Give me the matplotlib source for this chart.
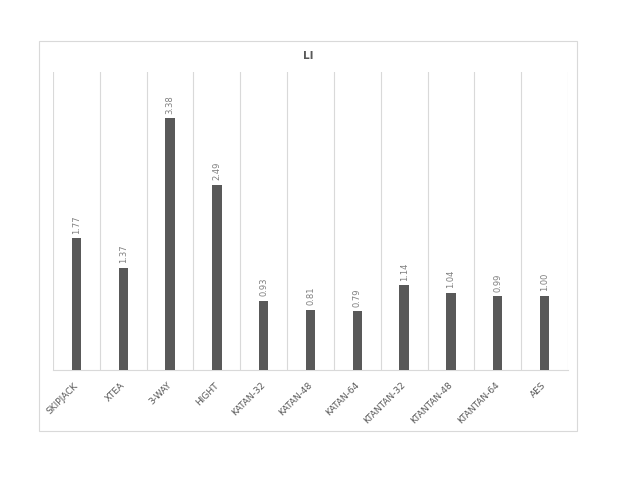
import matplotlib.pyplot as plt
from matplotlib.patches import Rectangle
from matplotlib.transforms import ScaledTranslation

# LI values per cipher
ciphers = ['SKIPJACK', 'XTEA', '3-WAY', 'HIGHT', 'KATAN-32', 'KATAN-48',
           'KATAN-64', 'KTANTAN-32', 'KTANTAN-48', 'KTANTAN-64', 'AES']
li_values = [1.77, 1.37, 3.38, 2.49, 0.93, 0.81, 0.79, 1.14, 1.04, 0.99, 1.00]

txt = '#595959'
grid = '#d9d9d9'

fig = plt.figure(figsize=(6.23, 4.81), dpi=100)
fig.patch.set_facecolor('white')

# chart area border
fig.patches.append(Rectangle((0.0626, 0.1019), 0.8636, 0.8108, transform=fig.transFigure,
                             fill=False, edgecolor=grid, linewidth=0.8))

ax = fig.add_axes([0.0851, 0.2287, 0.8266, 0.6195])
x = list(range(len(ciphers)))
bars = ax.bar(x, li_values, width=0.2, color='#595959', zorder=3)

ax.set_xlim(-0.5, len(ciphers) - 0.5)
ax.set_ylim(0, 4)

# vertical gridlines between categories
for b in [i - 0.5 for i in range(len(ciphers) + 1)]:
    ax.axvline(b, color=grid, linewidth=0.8, zorder=1)

for s in ['top', 'left', 'right']:
    ax.spines[s].set_visible(False)
ax.spines['bottom'].set_color(grid)
ax.spines['bottom'].set_linewidth(0.8)
ax.set_yticks([])
ax.set_xticks(x)
ax.set_xticklabels(ciphers, rotation=45, ha='right', rotation_mode='anchor',
                   fontsize=6.5, color=txt)
ax.tick_params(axis='x', length=0, pad=7)
shift = ScaledTranslation(-3 / 100, 0, fig.dpi_scale_trans)
for lbl in ax.get_xticklabels():
    lbl.set_transform(lbl.get_transform() + shift)

for rect, v in zip(bars, li_values):
    ax.annotate(f'{v:.2f}', (rect.get_x() + rect.get_width() / 2, v),
                xytext=(0, 4), textcoords='offset points', rotation=90,
                ha='center', va='bottom', fontsize=6, color='#7f7f7f')

fig.text(0.4944, 0.884, 'LI', ha='center', va='center', fontsize=7.5,
         fontweight='bold', color=txt)

fig.savefig('out.png', dpi=100)
